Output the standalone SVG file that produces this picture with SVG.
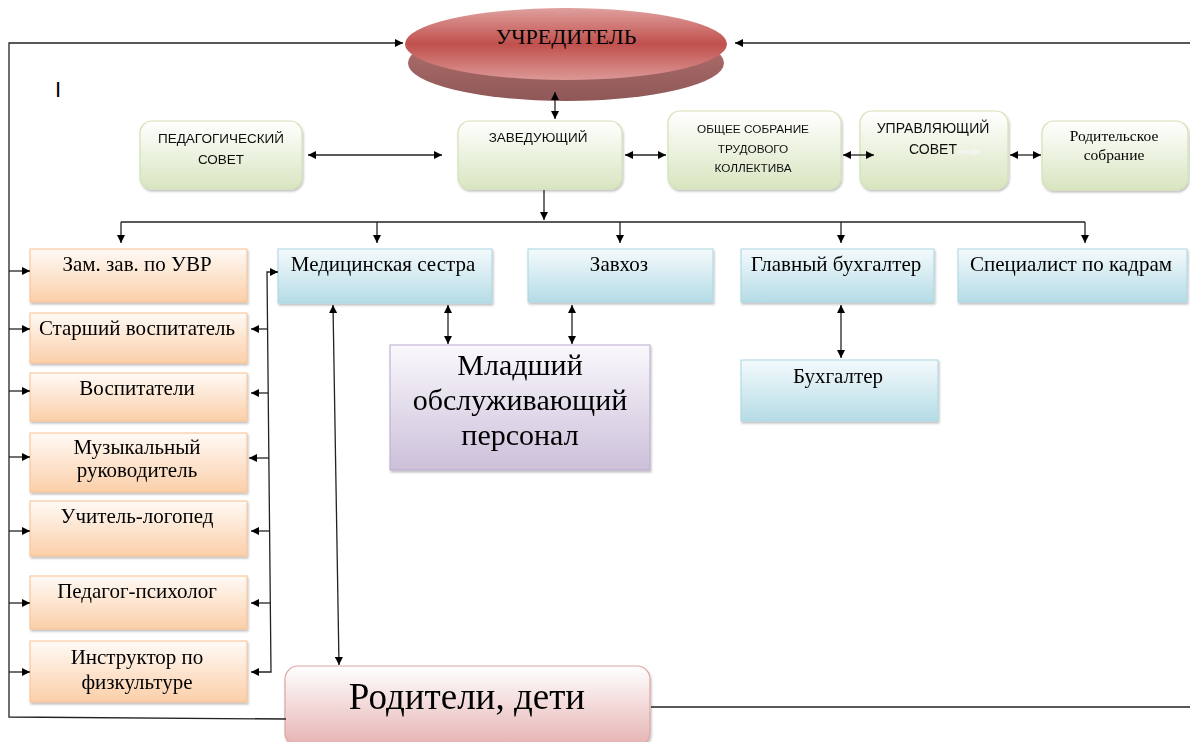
<svg xmlns="http://www.w3.org/2000/svg" width="1190" height="742" viewBox="0 0 1190 742">
<style>
.serif{font-family:"Liberation Serif","Times New Roman",serif;fill:#000;text-anchor:middle}
.sans{font-family:"Liberation Sans",Arial,sans-serif;fill:#111;text-anchor:middle}
.ln{fill:none;stroke:#222;stroke-width:1.3}
.org{fill:url(#gOrg);stroke:#f9bf8f;stroke-width:1}
.blu{fill:url(#gBlu);stroke:#a9d6e2;stroke-width:1}
.grn{fill:url(#gGrn);stroke:#d4e2b6;stroke-width:1.2}
.t21{font-size:21px}
</style>
<defs>
<linearGradient id="gOrg" x1="0" y1="0" x2="0" y2="1"><stop offset="0" stop-color="#fffaf6"/><stop offset="1" stop-color="#fbcfa9"/></linearGradient>
<linearGradient id="gBlu" x1="0" y1="0" x2="0" y2="1"><stop offset="0" stop-color="#f4fafc"/><stop offset="1" stop-color="#b5dce6"/></linearGradient>
<linearGradient id="gGrn" x1="0" y1="0" x2="0" y2="1"><stop offset="0" stop-color="#ffffff"/><stop offset="1" stop-color="#d8e5c0"/></linearGradient>
<linearGradient id="gPur" x1="0" y1="0" x2="0" y2="1"><stop offset="0" stop-color="#faf8fc"/><stop offset="1" stop-color="#ccc0da"/></linearGradient>
<linearGradient id="gPink" x1="0" y1="0" x2="0" y2="1"><stop offset="0" stop-color="#ffffff"/><stop offset="1" stop-color="#e5b3b2"/></linearGradient>
<linearGradient id="gFace" x1="0" y1="0" x2="0" y2="1"><stop offset="0" stop-color="#dfa09e"/><stop offset="0.5" stop-color="#c0504d"/><stop offset="1" stop-color="#dc9896"/></linearGradient>
<linearGradient id="gSide" x1="0" y1="0" x2="0" y2="1"><stop offset="0" stop-color="#b77472"/><stop offset="1" stop-color="#8e5857"/></linearGradient>
<filter id="sh" x="-5%" y="-5%" width="110%" height="120%"><feDropShadow dx="1" dy="2" stdDeviation="1" flood-color="#000" flood-opacity="0.25"/></filter>
<marker id="ah" viewBox="0 0 10 10" refX="10" refY="5" markerWidth="9" markerHeight="8" orient="auto-start-reverse" markerUnits="userSpaceOnUse"><path d="M0,0 L10,5 L0,10 z" fill="#000"/></marker>
<marker id="wh" viewBox="0 0 10 10" refX="10" refY="5" markerWidth="9" markerHeight="8" orient="auto-start-reverse" markerUnits="userSpaceOnUse"><path d="M0,0 L10,5 L0,10 z" fill="#f4f4f4"/></marker>
</defs>
<rect width="1190" height="742" fill="#fff"/>

<g id="uchreditel">
<ellipse cx="566" cy="63" rx="158" ry="38" fill="url(#gSide)"/>
<ellipse cx="566" cy="44" rx="161" ry="36" fill="url(#gFace)"/>
<text class="serif" x="566" y="44" font-size="22">УЧРЕДИТЕЛЬ</text>
</g>

<g id="cursor"><text x="55" y="97" font-family="Liberation Sans, Arial, sans-serif" font-size="22" fill="#000">I</text></g>

<g id="ped-sovet" filter="url(#sh)">
<rect class="grn" x="140" y="121" width="162" height="68" rx="12"/>
<text class="sans" x="221" y="143" font-size="13.5">ПЕДАГОГИЧЕСКИЙ</text>
<text class="sans" x="221" y="164" font-size="13.5">СОВЕТ</text>
</g>
<g id="zaveduyushchiy" filter="url(#sh)">
<rect class="grn" x="458" y="121" width="164" height="68" rx="12"/>
<text class="sans" x="538" y="142" font-size="13.5">ЗАВЕДУЮЩИЙ</text>
</g>
<g id="obshchee-sobranie" filter="url(#sh)">
<rect class="grn" x="668" y="111" width="173" height="78" rx="12"/>
<text class="sans" x="753" y="133" font-size="11.8">ОБЩЕЕ СОБРАНИЕ</text>
<text class="sans" x="753" y="153" font-size="11.8">ТРУДОВОГО</text>
<text class="sans" x="753" y="172" font-size="11.8">КОЛЛЕКТИВА</text>
</g>
<g id="upravlyayushchiy" filter="url(#sh)">
<rect class="grn" x="860" y="111" width="148" height="78" rx="12"/>
<text class="sans" x="933" y="133" font-size="14">УПРАВЛЯЮЩИЙ</text>
<text class="sans" x="933" y="154" font-size="14">СОВЕТ</text>
<line x1="957" y1="152" x2="980" y2="152" stroke="#f4f4f4" stroke-width="3" marker-end="url(#wh)"/>
</g>
<g id="roditelskoe" filter="url(#sh)">
<rect class="grn" x="1042" y="121" width="146" height="69" rx="12"/>
<text class="serif" x="1114" y="141" font-size="15.5">Родительское</text>
<text class="serif" x="1114" y="160" font-size="15.5">собрание</text>
</g>

<g id="zam" filter="url(#sh)"><rect class="org" x="30" y="249" width="217" height="53"/><text class="serif t21" x="137" y="271">Зам. зав. по УВР</text></g>
<g id="starshiy" filter="url(#sh)"><rect class="org" x="30" y="313" width="217" height="50"/><text class="serif t21" x="137" y="335">Старший воспитатель</text></g>
<g id="vospitateli" filter="url(#sh)"><rect class="org" x="30" y="373" width="217" height="48"/><text class="serif t21" x="137" y="395">Воспитатели</text></g>
<g id="muz" filter="url(#sh)"><rect class="org" x="30" y="433" width="217" height="59"/><text class="serif t21" x="137" y="454">Музыкальный</text><text class="serif t21" x="137" y="477">руководитель</text></g>
<g id="logoped" filter="url(#sh)"><rect class="org" x="30" y="501" width="217" height="55"/><text class="serif t21" x="137" y="523">Учитель-логопед</text></g>
<g id="psiholog" filter="url(#sh)"><rect class="org" x="30" y="576" width="217" height="53"/><text class="serif t21" x="137" y="598">Педагог-психолог</text></g>
<g id="instruktor" filter="url(#sh)"><rect class="org" x="30" y="641" width="217" height="61"/><text class="serif t21" x="137" y="664">Инструктор по</text><text class="serif t21" x="137" y="689">физкультуре</text></g>

<g id="medsestra" filter="url(#sh)"><rect class="blu" x="278" y="249" width="214" height="54"/><text class="serif t21" x="383" y="271">Медицинская сестра</text></g>
<g id="zavhoz" filter="url(#sh)"><rect class="blu" x="528" y="249" width="185" height="53"/><text class="serif t21" x="619" y="271">Завхоз</text></g>
<g id="glavbuh" filter="url(#sh)"><rect class="blu" x="741" y="249" width="193" height="53"/><text class="serif t21" x="836" y="271">Главный бухгалтер</text></g>
<g id="kadry" filter="url(#sh)"><rect class="blu" x="958" y="249" width="229" height="53"/><text class="serif t21" x="1071" y="271">Специалист по кадрам</text></g>
<g id="buhgalter" filter="url(#sh)"><rect class="blu" x="741" y="360" width="197" height="61"/><text class="serif t21" x="838" y="383">Бухгалтер</text></g>

<g id="mladshiy" filter="url(#sh)">
<rect x="390" y="345" width="260" height="125" fill="url(#gPur)" stroke="#b9aacd" stroke-width="1"/>
<text class="serif" x="520" y="375" font-size="30">Младший</text>
<text class="serif" x="520" y="410" font-size="30">обслуживающий</text>
<text class="serif" x="520" y="445" font-size="30">персонал</text>
</g>

<g id="roditeli-deti" filter="url(#sh)">
<rect x="285" y="666" width="365" height="80" rx="13" fill="url(#gPink)" stroke="#dca5a4" stroke-width="1.2"/>
<text class="serif" x="467" y="709" font-size="37">Родители, дети</text>
</g>

<g id="connectors">
<polyline class="ln" points="286,719 9,717 9,43 403,43" marker-end="url(#ah)"/>
<line class="ln" x1="1190" y1="43" x2="735" y2="43" marker-end="url(#ah)"/>
<line class="ln" x1="651" y1="707" x2="1190" y2="707"/>
<line class="ln" x1="9" y1="271" x2="30" y2="271" marker-end="url(#ah)"/>
<line class="ln" x1="9" y1="329" x2="30" y2="329" marker-end="url(#ah)"/>
<line class="ln" x1="9" y1="391" x2="30" y2="391" marker-end="url(#ah)"/>
<line class="ln" x1="9" y1="457" x2="30" y2="457" marker-end="url(#ah)"/>
<line class="ln" x1="9" y1="531" x2="30" y2="531" marker-end="url(#ah)"/>
<line class="ln" x1="9" y1="603" x2="30" y2="603" marker-end="url(#ah)"/>
<line class="ln" x1="9" y1="672" x2="30" y2="672" marker-end="url(#ah)"/>
<polyline class="ln" points="251,672 271,672 267,272 278,272" marker-start="url(#ah)" marker-end="url(#ah)"/>
<line class="ln" x1="268" y1="329" x2="251" y2="329" marker-end="url(#ah)"/>
<line class="ln" x1="268" y1="393" x2="251" y2="393" marker-end="url(#ah)"/>
<line class="ln" x1="269" y1="458" x2="249" y2="458" marker-end="url(#ah)"/>
<line class="ln" x1="270" y1="531" x2="251" y2="531" marker-end="url(#ah)"/>
<line class="ln" x1="270" y1="603" x2="251" y2="603" marker-end="url(#ah)"/>
<line class="ln" x1="555" y1="92" x2="555" y2="119" marker-start="url(#ah)" marker-end="url(#ah)"/>
<line class="ln" x1="308" y1="155" x2="442" y2="155" marker-start="url(#ah)" marker-end="url(#ah)"/>
<line class="ln" x1="625" y1="155" x2="666" y2="155" marker-start="url(#ah)" marker-end="url(#ah)"/>
<line class="ln" x1="843" y1="155" x2="874" y2="155" marker-start="url(#ah)" marker-end="url(#ah)"/>
<line class="ln" x1="1010" y1="155" x2="1041" y2="155" marker-start="url(#ah)" marker-end="url(#ah)"/>
<line class="ln" x1="544" y1="190" x2="544" y2="220" marker-end="url(#ah)"/>
<line class="ln" x1="121" y1="222" x2="1085" y2="222"/>
<line class="ln" x1="121" y1="222" x2="121" y2="243" marker-end="url(#ah)"/>
<line class="ln" x1="377" y1="222" x2="377" y2="243" marker-end="url(#ah)"/>
<line class="ln" x1="620" y1="222" x2="620" y2="243" marker-end="url(#ah)"/>
<line class="ln" x1="841" y1="222" x2="841" y2="243" marker-end="url(#ah)"/>
<line class="ln" x1="1085" y1="222" x2="1085" y2="243" marker-end="url(#ah)"/>
<line class="ln" x1="448" y1="305" x2="448" y2="344" marker-start="url(#ah)" marker-end="url(#ah)"/>
<line class="ln" x1="572" y1="305" x2="572" y2="344" marker-start="url(#ah)" marker-end="url(#ah)"/>
<line class="ln" x1="841" y1="305" x2="841" y2="358" marker-start="url(#ah)" marker-end="url(#ah)"/>
<line class="ln" x1="333" y1="305" x2="339" y2="665" marker-start="url(#ah)" marker-end="url(#ah)"/>
</g>
</svg>
